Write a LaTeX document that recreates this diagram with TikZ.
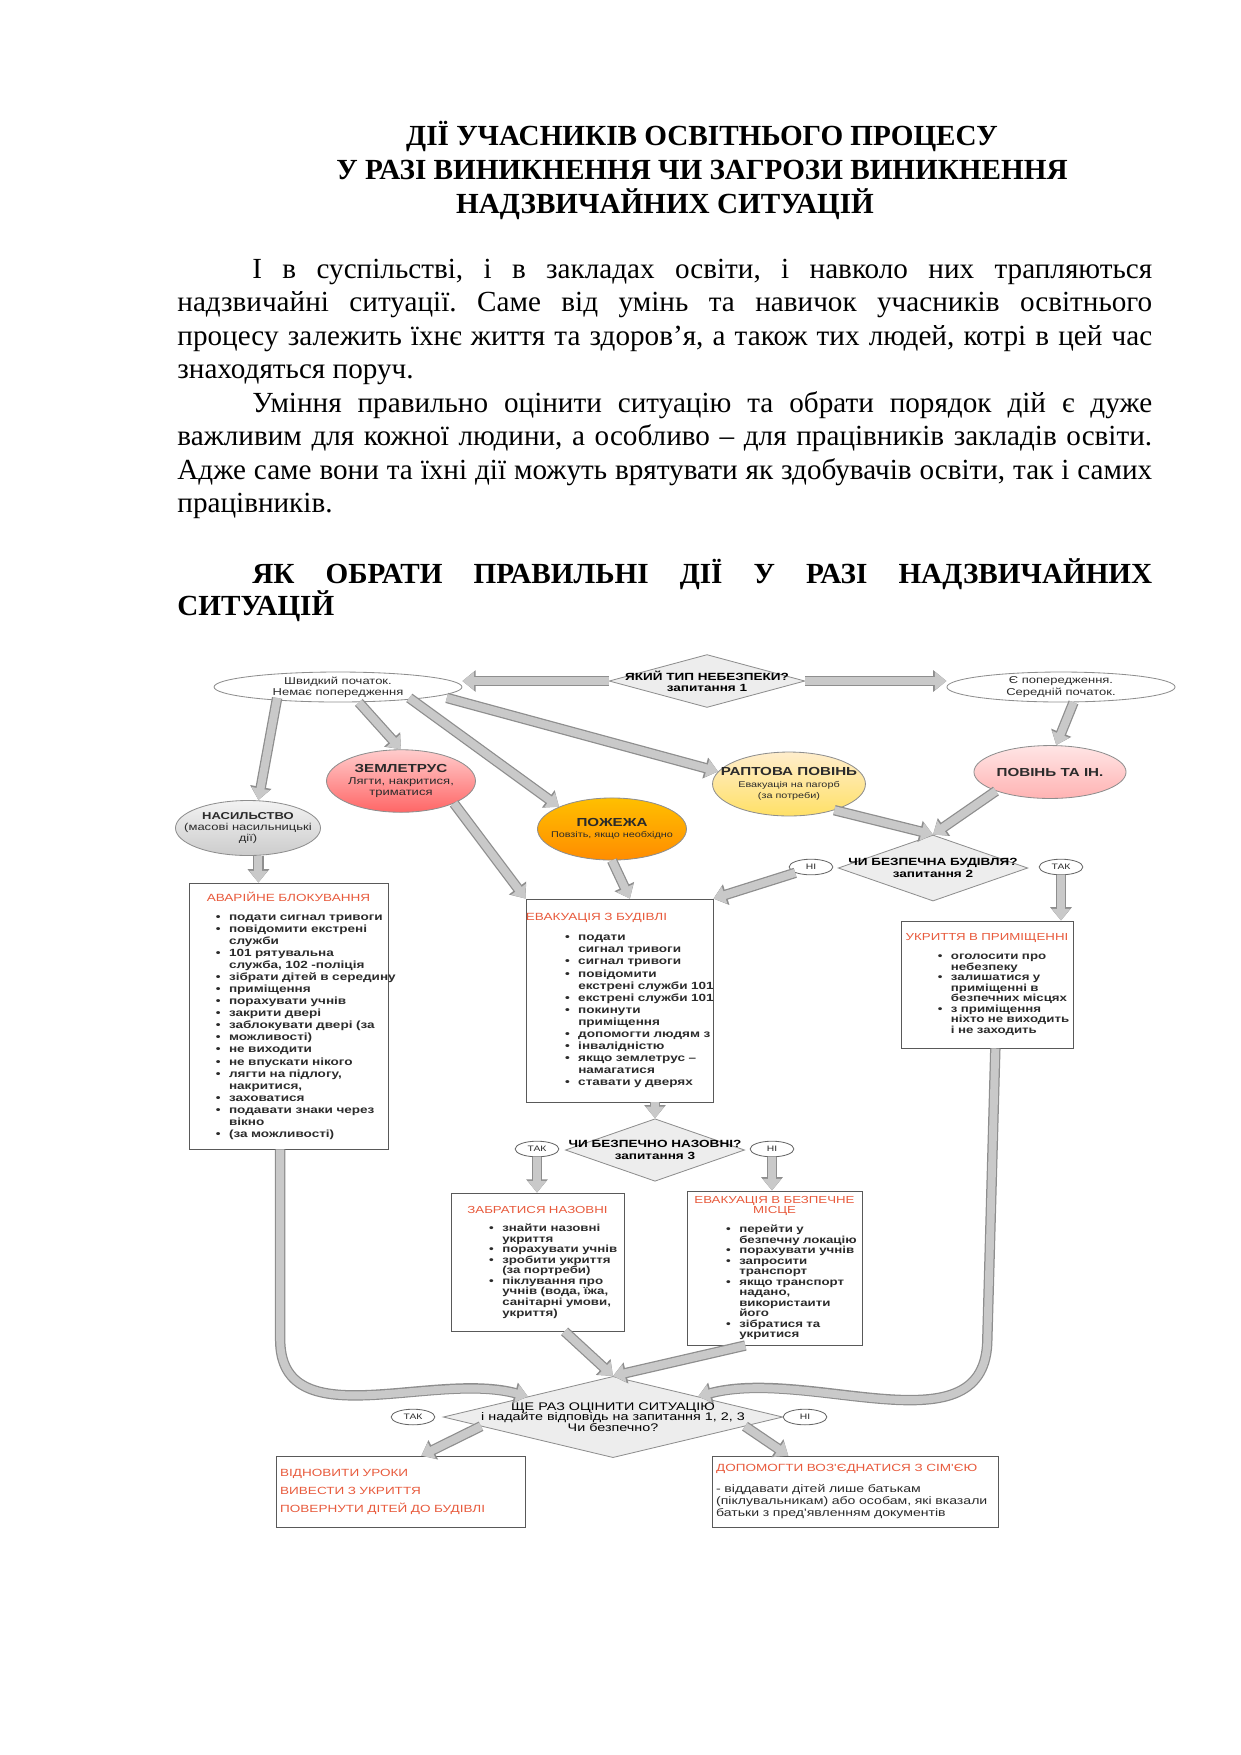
\documentclass[tikz,border=0pt]{standalone}
\usepackage{fontspec}
\setmainfont{Liberation Serif}
\newfontfamily\dg[FakeStretch=1.3]{Liberation Sans}
\usetikzlibrary{shapes.geometric, arrows.meta}
\definecolor{redtxt}{HTML}{E85A3C}
\definecolor{barfill}{HTML}{C9C9C9}
\definecolor{baredge}{HTML}{8E8E8E}
\definecolor{askfill}{HTML}{EDEDED}
\definecolor{dgtext}{HTML}{2B2B2B}
\newlength{\bi}
\newcommand{\bul}[1]{\hspace*{\bi}\makebox[6.3pt][l]{\textbullet}\mbox{#1}}
\newcommand{\cnt}[1]{\hspace*{\bi}\hspace*{6.3pt}\mbox{#1}}
\frenchspacing

\begin{document}
\begin{tikzpicture}[x=0.48pt, y=-0.48pt,
  oval/.style={ellipse, draw=baredge, inner sep=-30pt, align=center, text=dgtext, font=\dg\fontsize{4.8}{5.4}\selectfont},
  ask/.style={diamond, draw=baredge, fill=askfill, inner sep=-40pt, align=center, text=black, font=\dg\bfseries\fontsize{5}{5.4}\selectfont},
  yn/.style={ellipse, draw=black!60, fill=white, minimum width=21pt, minimum height=7.5pt, inner sep=-10pt, text=dgtext, font=\dg\fontsize{3.8}{4}\selectfont},
  card/.style={rectangle, draw=black!65, fill=white, inner sep=2pt, align=left, text=dgtext, execute at begin node={\setlength{\bi}{#1}}},
  bar/.style={line width=3.8pt, draw=barfill, -{Triangle[length=5.6pt,width=8.4pt]}, preaction={draw=baredge, line width=5pt, -{Triangle[length=6.4pt,width=10pt]}}},
]
\useasboundingbox (0,0) rectangle (1241,1755);

\node[anchor=base, font=\bfseries\fontsize{14}{16}\selectfont] (title1) at (702,145) {ДІЇ УЧАСНИКІВ ОСВІТНЬОГО ПРОЦЕСУ};
\node[anchor=base, font=\bfseries\fontsize{14}{16}\selectfont] (title2) at (702,179) {У РАЗІ ВИНИКНЕННЯ ЧИ ЗАГРОЗИ ВИНИКНЕННЯ};
\node[anchor=base, font=\bfseries\fontsize{14}{16}\selectfont] (title3) at (665,213) {НАДЗВИЧАЙНИХ СИТУАЦІЙ};

\node[anchor=base west, text width=467.9pt, align=justify, inner sep=0pt, font=\fontsize{14}{16.11}\selectfont] (intro) at (177,278) {\hspace*{36pt}І в суспільстві, і в закладах освіти, і навколо них трапляються\linebreak
надзвичайні ситуації. Саме від умінь та навичок учасників освітнього\linebreak
процесу залежить їхнє життя та здоров’я, а також тих людей, котрі в цей час\linebreak
знаходяться поруч.\par
\hspace*{36pt}Уміння правильно оцінити ситуацію та обрати порядок дій є дуже\linebreak
важливим для кожної людини, а особливо – для працівників закладів освіти.\linebreak
Адже саме вони та їхні дії можуть врятувати як здобувачів освіти, так і самих\linebreak
працівників.};

\node[anchor=base west, text width=467.9pt, align=justify, inner sep=0pt, font=\bfseries\fontsize{14}{15.6}\selectfont] (howto) at (177,583) {\hspace*{36pt}ЯК ОБРАТИ ПРАВИЛЬНІ ДІЇ У РАЗІ НАДЗВИЧАЙНИХ\linebreak
СИТУАЦІЙ};

\node[oval, fill=white, minimum width=119pt, minimum height=14.4pt] (fast) at (338,687) {Швидкий початок.\\Немає попередження};
\node[ask, minimum width=94pt, minimum height=25.4pt] (q1) at (707,681) {ЯКИЙ ТИП НЕБЕЗПЕКИ?\\запитання 1};
\node[oval, fill=white, minimum width=109.5pt, minimum height=14.4pt] (warn) at (1061,687) {Є попередження.\\Середній початок.};

\node[oval, top color=red!20, bottom color=red!60, minimum width=71.5pt, minimum height=30pt] (zeml) at (401,781) {\textbf{\fontsize{5.6}{6.4}\selectfont ЗЕМЛЕТРУС}\\Лягти, накритися,\\триматися};
\node[oval, top color=gray!10, bottom color=gray!40, minimum width=69.6pt, minimum height=26.4pt] (nasyl) at (248,828) {\textbf{НАСИЛЬСТВО}\\(масові насильницькі\\дії)};
\node[oval, top color=orange!50!yellow, bottom color=orange!90!yellow, minimum width=71.5pt, minimum height=29.8pt] (pozh) at (612,829) {\textbf{\fontsize{5.6}{6.4}\selectfont ПОЖЕЖА}\\{\fontsize{4}{4.6}\selectfont Повзіть, якщо необхідно}};
\node[oval, top color=yellow!30!orange!20, bottom color=yellow!60!orange!60, minimum width=73.4pt, minimum height=30.7pt] (rapt) at (789,784) {\textbf{\fontsize{5.6}{6.4}\selectfont РАПТОВА ПОВІНЬ}\\{\fontsize{4}{4.6}\selectfont Евакуація на пагорб}\\{\fontsize{4}{4.6}\selectfont (за потреби)}};
\node[oval, top color=red!10, bottom color=red!30, minimum width=73pt, minimum height=25.4pt] (povin) at (1050,772) {\textbf{\fontsize{5.6}{6.4}\selectfont ПОВІНЬ ТА ІН.}};

\node[ask, minimum width=91pt, minimum height=31.7pt] (q2) at (933,868) {ЧИ БЕЗПЕЧНА БУДІВЛЯ?\\запитання 2};
\node[yn] (q2no) at (811,867) {НІ};
\node[yn] (q2yes) at (1061,867) {ТАК};

\node[card=10.9pt, text width=91.5pt, minimum height=127.7pt, font=\dg\bfseries\fontsize{5}{5.8}\selectfont] (blok) at (288.5,1016) {\makebox[\linewidth]{\mdseries\color{redtxt}АВАРІЙНЕ БЛОКУВАННЯ}\\[3pt]
\bul{подати сигнал тривоги}\\
\bul{повідомити екстрені}\\
\cnt{служби}\\
\bul{101 рятувальна}\\
\cnt{служба, 102 -поліція}\\
\bul{зібрати дітей в середину}\\
\bul{приміщення}\\
\bul{порахувати учнів}\\
\bul{закрити двері}\\
\bul{заблокувати двері (за}\\
\bul{можливості)}\\
\bul{не виходити}\\
\bul{не впускати нікого}\\
\bul{лягти на підлогу,}\\
\cnt{накритися,}\\
\bul{заховатися}\\
\bul{подавати знаки через}\\
\cnt{вікно}\\
\bul{(за можливості)}};

\node[card=16.8pt, text width=85.8pt, minimum height=97.4pt, font=\dg\bfseries\fontsize{5}{5.8}\selectfont] (evak) at (619.5,1000.5) {\hspace*{-2pt}{\mdseries\color{redtxt}ЕВАКУАЦІЯ З БУДІВЛІ}\\[4pt]
\bul{подати}\\
\cnt{сигнал тривоги}\\
\bul{сигнал тривоги}\\
\bul{повідомити}\\
\cnt{екстрені служби 101}\\
\bul{екстрені служби 101}\\
\bul{покинути}\\
\cnt{приміщення}\\
\bul{допомогти людям з}\\
\bul{інвалідністю}\\
\bul{якщо землетрус –}\\
\cnt{намагатися}\\
\bul{ставати у дверях}};

\node[card=15.7pt, text width=78.6pt, minimum height=61pt, font=\dg\bfseries\fontsize{4.9}{5.05}\selectfont] (ukr) at (987,984.5) {\makebox[\linewidth]{\mdseries\color{redtxt}УКРИТТЯ В ПРИМІЩЕННІ}\\[4pt]
\bul{оголосити про}\\
\cnt{небезпеку}\\
\bul{залишатися у}\\
\cnt{приміщенні в}\\
\cnt{безпечних місцях}\\
\bul{з приміщення}\\
\cnt{ніхто не виходить}\\
\cnt{і не заходить}};

\node[ask, minimum width=86pt, minimum height=30pt] (q3) at (655,1150) {ЧИ БЕЗПЕЧНО НАЗОВНІ?\\запитання 3};
\node[yn] (q3yes) at (537,1149) {ТАК};
\node[yn] (q3no) at (772,1149) {НІ};

\node[card=16.3pt, text width=79pt, minimum height=66.2pt, font=\dg\bfseries\fontsize{4.9}{5.05}\selectfont] (naz) at (537.5,1262) {\makebox[\linewidth]{\mdseries\color{redtxt}ЗАБРАТИСЯ НАЗОВНІ}\\[4pt]
\bul{знайти назовні}\\
\cnt{укриття}\\
\bul{порахувати учнів}\\
\bul{зробити укриття}\\
\cnt{(за портреби)}\\
\bul{піклування про}\\
\cnt{учнів (вода, їжа,}\\
\cnt{санітарні умови,}\\
\cnt{укриття)}};

\node[card=16.8pt, text width=80pt, minimum height=74pt, font=\dg\bfseries\fontsize{4.9}{5.05}\selectfont] (misce) at (774.5,1268) {\makebox[\linewidth]{\mdseries\color{redtxt}ЕВАКУАЦІЯ В БЕЗПЕЧНЕ}\\
\makebox[\linewidth]{\mdseries\color{redtxt}МІСЦЕ}\\[4pt]
\bul{перейти у}\\
\cnt{безпечну локацію}\\
\bul{порахувати учнів}\\
\bul{запросити}\\
\cnt{транспорт}\\
\bul{якщо транспорт}\\
\cnt{надано,}\\
\cnt{використаити}\\
\cnt{його}\\
\bul{зібратися та}\\
\cnt{укритися}};

\node[ask, minimum width=163pt, minimum height=39pt, font=\dg\fontsize{5.3}{5.1}\selectfont] (q4) at (613,1417) {ЩЕ РАЗ ОЦІНИТИ СИТУАЦІЮ\\і надайте відповідь на запитання 1, 2, 3\\Чи безпечно?};
\node[yn] (q4yes) at (413,1417) {ТАК};
\node[yn] (q4no) at (805,1417) {НІ};

\node[card=0pt, text width=115.5pt, minimum height=34pt, text=redtxt, font=\dg\fontsize{5}{8.6}\selectfont] (resume) at (400.5,1491.5) {ВІДНОВИТИ УРОКИ\\ВИВЕСТИ З УКРИТТЯ\\ПОВЕРНУТИ ДІТЕЙ ДО БУДІВЛІ};
\node[card=0pt, text width=133.3pt, minimum height=34pt, font=\dg\fontsize{5.2}{4.6}\selectfont] (family) at (855,1491.5) {{\color{redtxt}\fontsize{5}{5}\selectfont ДОПОМОГТИ ВОЗ'ЄДНАТИСЯ З СІМ'ЄЮ}\\[4pt]
- віддавати дітей лише батькам\\
(піклувальникам) або особам, які вказали\\
батьки з пред'явленням документів};

\draw[bar] (q1.west) -- (q1.west -| fast.east);
\draw[bar] (q1.east) -- (q1.east -| warn.west);
\draw[bar] ([xshift=13pt]fast.south west) -- ([xshift=5pt]nasyl.north);
\draw[bar] ([xshift=5pt]nasyl.south) -- ([xshift=5pt]nasyl.south |- blok.north);
\draw[bar] ([xshift=10pt]fast.south) -- (zeml.north);
\draw[bar] (zeml.south east) -- (evak.north west);
\draw[bar] ([xshift=-8pt]fast.south east) -- (pozh.north west);
\draw[bar] (pozh.south) -- ([xshift=5pt]evak.north);
\draw[bar] ([xshift=10pt]fast.south east) -- (rapt.170);
\draw[bar] (rapt.-30) -- (q2.north);
\draw[bar] ([xshift=6pt]warn.south) -- ([xshift=3pt]povin.north);
\draw[bar] (povin.south west) -- (q2.north);
\draw[bar] (q2no.south west) -- (evak.north east);
\draw[bar] (q2yes.south) -- (q2yes.south |- ukr.north);
\draw[bar] (q3.north |- evak.south) -- (q3.north);
\draw[bar] (q3yes.south) -- (q3yes.south |- naz.north);
\draw[bar] (q3no.south) -- (q3no.south |- misce.north);
\draw[bar] ([xshift=13pt]naz.south) -- (q4.north);
\draw[bar] ([xshift=-14pt]misce.south) -- (q4.north);
\draw[bar] ([xshift=-4pt]blok.south) -- ++(0,190) to[out=-90,in=165] (q4.north west);
\draw[bar] ([xshift=4pt]ukr.south) -- ++(-8,290) to[out=-90,in=15] (q4.north east);
\draw[bar] (q4.184) -- ([xshift=10pt]resume.north);
\draw[bar] (q4.-4) -- ([xshift=-32pt]family.north);
\end{tikzpicture}
\end{document}
